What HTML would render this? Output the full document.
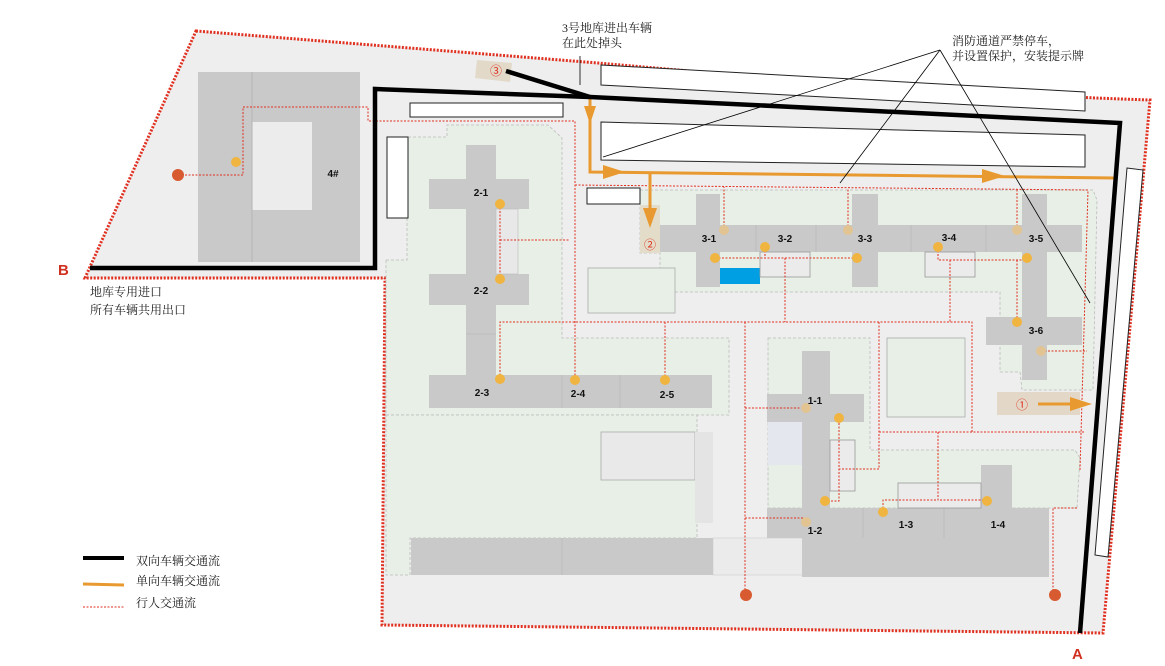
<!DOCTYPE html>
<html><head><meta charset="utf-8"><style>
html,body{margin:0;padding:0;background:#fff;}
svg{display:block;}
text{font-family:"Liberation Sans","Noto Sans CJK SC",sans-serif;}
.cn{font-size:12px;fill:#222;font-family:"Liberation Serif","Noto Serif CJK SC",serif;}
.lb{font-size:10px;font-weight:bold;fill:#111;}
</style></head><body>
<svg width="1165" height="666" viewBox="0 0 1165 666" xmlns="http://www.w3.org/2000/svg">
<polygon points="196,31 598,63 770,78 1095,98 1150,100 1103,633 382,625 385,278 85,278" fill="#eeeeee" stroke="#e03020" stroke-width="3" stroke-dasharray="2,1.5"/>
<g fill="#e7efe6" stroke="#bbb" stroke-width="0.8" stroke-dasharray="3,2">
<polygon points="386,260 407,260 407,137 447,137 447,125 548,125 562,138 562,338 729,338 729,415 386,415"/>
<polygon points="386,415 697,415 697,538 410,538 410,575 386,575"/>
<polygon points="640,190 1093,190 1097,200 1093,390 1022,390 1020,372 1000,372 1000,292 660,292 660,253 640,253"/>
<polygon points="768,338 870,338 870,450 1075,450 1080,458 1077,508 880,508 768,508"/>
</g>
<rect x="588" y="268" width="87" height="45" fill="#e7efe6" stroke="#aaa" stroke-width="0.8"/>
<rect x="887" y="338" width="78" height="79" fill="#e7efe6" stroke="#aaa" stroke-width="0.8"/>
<rect x="601" y="432" width="94" height="48" fill="#e9e9e9" stroke="#aaa" stroke-width="0.8"/>
<rect x="695" y="432" width="18" height="91" fill="#e4e4e4"/>
<rect x="713" y="538" width="117" height="37" fill="#ebebeb" stroke="#ccc" stroke-width="0.6"/>
<rect x="768" y="422" width="34" height="43" fill="#e4e8ee"/>
<polygon points="477,60 512,63 510,82 475,78" fill="#e2d9c9"/>
<rect x="640" y="205" width="20" height="48" fill="#e2dcc8"/>
<rect x="997" y="392" width="83" height="23" fill="#e3d8c8"/>
<g fill="#fff" stroke="#222" stroke-width="1">
<polygon points="601,65 1085,92 1085,111 601,85"/>
<polygon points="601,122 1085,135 1085,167 601,160"/>
<rect x="410" y="103" width="153" height="14"/>
<rect x="387" y="137" width="21" height="81"/>
<rect x="587" y="188" width="53" height="16"/>
<polygon points="1127,168 1143,170 1108,557 1095,555"/>
</g>
<g fill="#c9c9c9">
<rect x="198" y="72" width="162" height="190"/>
<rect x="466" y="145" width="30" height="230"/>
<rect x="429" y="179" width="100" height="30"/>
<rect x="429" y="274" width="100" height="31"/>
<rect x="429" y="375" width="283" height="33"/>
<rect x="411" y="538" width="302" height="37"/>
<rect x="660" y="225" width="422" height="27"/>
<rect x="696" y="194" width="24" height="93"/>
<rect x="852" y="194" width="26" height="93"/>
<rect x="1022" y="194" width="25" height="186"/>
<rect x="986" y="317" width="96" height="28"/>
<rect x="802" y="351" width="28" height="226"/>
<rect x="767" y="394" width="97" height="28"/>
<rect x="767" y="508" width="282" height="30"/>
<rect x="830" y="538" width="219" height="39"/>
<rect x="981" y="465" width="31" height="43"/>
</g>
<rect x="252" y="122" width="60" height="88" fill="#ececec"/>
<line x1="252" y1="72" x2="252" y2="262" stroke="#b5b5b5"/>
<rect x="496" y="209" width="22" height="65" fill="#e8e8e8" stroke="#bbb" stroke-width="0.6"/>
<g stroke="#b8b8b8" stroke-width="0.7">
<line x1="562" y1="375" x2="562" y2="408"/><line x1="620" y1="375" x2="620" y2="408"/>
<line x1="562" y1="538" x2="562" y2="575"/>
<line x1="756" y1="225" x2="756" y2="252"/><line x1="816" y1="225" x2="816" y2="252"/>
<line x1="911" y1="225" x2="911" y2="252"/><line x1="986" y1="225" x2="986" y2="252"/>
<line x1="863" y1="508" x2="863" y2="538"/><line x1="944" y1="508" x2="944" y2="538"/>
<line x1="466" y1="334" x2="496" y2="334"/>
</g>
<rect x="720" y="268" width="40" height="16" fill="#009fe3"/>
<g fill="#ebebeb" stroke="#999" stroke-width="0.8">
<rect x="760" y="252" width="50" height="25"/>
<rect x="925" y="252" width="50" height="25"/>
<rect x="830" y="440" width="25" height="51"/>
<rect x="898" y="483" width="83" height="25"/>
</g>
<g fill="none" stroke="#e03020" stroke-width="1" stroke-dasharray="2,1.5">
<polyline points="178,175 243,175 243,107 368,107 368,121 575,121 575,380"/>
<polyline points="575,185 1088,190 1080,470"/>
<polyline points="500,204 500,279"/><line x1="500" y1="240" x2="570" y2="240"/>
<polyline points="500,379 500,322 972,322 972,432"/>
<line x1="665" y1="322" x2="665" y2="380"/>
<polyline points="745,322 745,595"/>
<polyline points="715,258 857,258"/><polyline points="765,247 765,258"/>
<polyline points="785,258 785,322"/>
<polyline points="938,247 938,260 1027,260"/><line x1="950" y1="260" x2="950" y2="322"/>
<line x1="724" y1="230" x2="724" y2="187"/><line x1="848" y1="230" x2="848" y2="188"/><line x1="1017" y1="230" x2="1017" y2="190"/>
<line x1="1017" y1="260" x2="1017" y2="322"/>
<line x1="1041" y1="351" x2="1087" y2="351"/>
<line x1="745" y1="408" x2="806" y2="408"/>
<polyline points="879,322 879,469 839,469"/>
<polyline points="839,416 839,501 825,501"/>
<line x1="879" y1="432" x2="1085" y2="432"/>
<polyline points="938,432 938,500 987,500"/>
<polyline points="883,512 883,500 938,500"/>
<line x1="745" y1="518" x2="806" y2="518"/>
<polyline points="1077,508 1053,508 1053,595"/>
</g>
<g fill="#f0b440">
<circle cx="236" cy="162" r="5"/>
<circle cx="500" cy="204" r="5"/><circle cx="500" cy="279" r="5"/><circle cx="500" cy="379" r="5"/>
<circle cx="575" cy="380" r="5"/><circle cx="665" cy="380" r="5"/>
<circle cx="765" cy="247" r="5"/><circle cx="715" cy="258" r="5"/><circle cx="857" cy="258" r="5"/>
<circle cx="938" cy="247" r="5"/><circle cx="1027" cy="258" r="5"/><circle cx="1017" cy="322" r="5"/>
<circle cx="839" cy="418" r="5"/><circle cx="825" cy="501" r="5"/><circle cx="883" cy="512" r="5"/><circle cx="987" cy="501" r="5"/>
</g>
<g fill="#e2c392">
<circle cx="724" cy="230" r="5"/><circle cx="848" cy="230" r="5"/><circle cx="1017" cy="230" r="5"/><circle cx="1041" cy="351" r="5"/>
<circle cx="806" cy="408" r="5"/><circle cx="806" cy="522" r="5"/>
</g>
<g fill="#d85a30"><circle cx="178" cy="175" r="6"/><circle cx="746" cy="595" r="6"/><circle cx="1055" cy="595" r="6"/></g>
<g class="lb" text-anchor="middle">
<text x="333" y="177">4#</text>
<text x="481" y="196">2-1</text><text x="481" y="294">2-2</text><text x="482" y="396">2-3</text><text x="578" y="397">2-4</text><text x="667" y="398">2-5</text>
<text x="709" y="242">3-1</text><text x="785" y="242">3-2</text><text x="865" y="242">3-3</text><text x="949" y="241">3-4</text><text x="1036" y="242">3-5</text><text x="1036" y="334">3-6</text>
<text x="815" y="404">1-1</text><text x="815" y="534">1-2</text><text x="906" y="528">1-3</text><text x="998" y="528">1-4</text>
</g>
<g stroke="#e89a30" fill="none" stroke-width="3">
<polyline points="590,97 590,172 1115,178"/>
<line x1="650" y1="173" x2="650" y2="222"/>
<line x1="1038" y1="404" x2="1075" y2="404"/>
</g>
<g fill="#e89a30">
<polygon points="584,106 596,106 590,124"/>
<polygon points="603,165 603,179 625,172"/>
<polygon points="982,169 982,183 1005,176"/>
<polygon points="643,208 657,208 650,228"/>
<polygon points="1070,397 1070,411 1092,404"/>
</g>
<g fill="#e03020" font-size="12" text-anchor="middle">
<text x="496" y="75">③</text><text x="650" y="249">②</text><text x="1022" y="409">①</text>
</g>
<polyline points="90,268 375,268 375,89 590,97 1120,123 1080,633" fill="none" stroke="#000" stroke-width="4.5"/>
<line x1="506" y1="71" x2="590" y2="97" stroke="#000" stroke-width="4.5"/>
<g stroke="#000" stroke-width="0.8">
<line x1="580" y1="56" x2="580" y2="85"/>
<line x1="940" y1="50" x2="603" y2="157"/>
<line x1="940" y1="50" x2="840" y2="183"/>
<line x1="940" y1="50" x2="1090" y2="303"/>
</g>
<text class="cn" x="562" y="32">3号地库进出车辆</text>
<text class="cn" x="562" y="47">在此处掉头</text>
<text class="cn" x="952" y="45">消防通道严禁停车，</text>
<text class="cn" x="952" y="60">并设置保护，安装提示牌</text>
<text x="58" y="275" font-size="15" font-weight="bold" fill="#d03020">B</text>
<text x="1072" y="659" font-size="15" font-weight="bold" fill="#d03020">A</text>
<text class="cn" x="90" y="296">地库专用进口</text>
<text class="cn" x="90" y="314">所有车辆共用出口</text>
<line x1="83" y1="558" x2="124" y2="558" stroke="#000" stroke-width="4"/>
<line x1="83" y1="584" x2="124" y2="585" stroke="#e89a30" stroke-width="3"/>
<line x1="83" y1="607" x2="124" y2="607" stroke="#e03020" stroke-width="1" stroke-dasharray="2,1.5"/>
<text class="cn" x="136" y="565">双向车辆交通流</text>
<text class="cn" x="136" y="585">单向车辆交通流</text>
<text class="cn" x="136" y="607">行人交通流</text>
</svg>
</body></html>
